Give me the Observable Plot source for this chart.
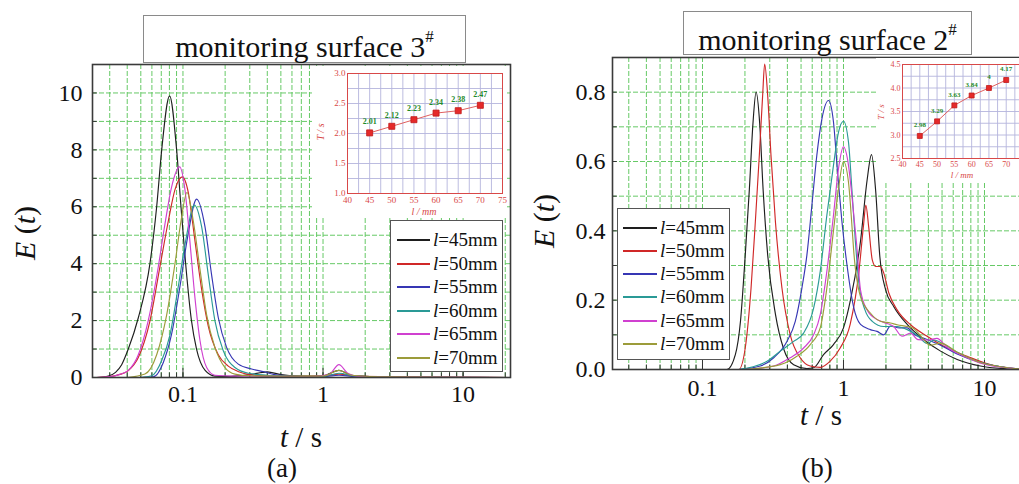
<!DOCTYPE html>
<html><head><meta charset="utf-8">
<script src="https://cdn.jsdelivr.net/npm/d3@7"></script>
<script src="https://cdn.jsdelivr.net/npm/@observablehq/plot@0.6"></script>
<style>
html,body{margin:0;padding:0;background:#fff;}
#root{position:relative;width:1019px;height:484px;overflow:hidden;background:#fff;font-family:"Liberation Serif","Tinos","Times New Roman","DejaVu Serif",serif;color:#111;}
.abs{position:absolute;}
.abs svg{max-width:none !important;display:block;}
.title{position:absolute;border:1.5px solid #8a8a8a;background:#fff;font-size:30px;text-align:center;box-sizing:border-box;white-space:nowrap;}
.title sup{font-size:17px;position:relative;top:-4px;}
.lab{position:absolute;white-space:nowrap;line-height:1;transform:translate(-50%,-50%);}
.rot{transform:translate(-50%,-50%) rotate(-90deg);}
.legend{position:absolute;border:1.5px solid #555;background:#fff;box-sizing:border-box;}
.lrow{position:absolute;left:0;height:20px;font-size:19px;line-height:20px;white-space:nowrap;}
.lrow .sw{position:absolute;top:9px;height:2px;}
.lrow .tx{position:absolute;top:0;}
</style>
</head><body>
<div id="root"></div>
<script>
// ---------- data ----------
const lengths = [45, 50, 55, 60, 65, 70];
const colors = ["#1e1e1e", "#d02828", "#3636b4", "#2a9a96", "#d040d0", "#9c9c3a"];

// panel (a): monitoring surface 3#  [t (s), E(t)]
const a45 = [[0.0226,0],[0.026,0.01],[0.0293,0.05],[0.033,0.18],[0.0365,0.45],[0.0407,1.0],[0.048,2.1],[0.0581,4.0],[0.0649,6.0],[0.0705,8.0],[0.0803,9.9],[0.0901,8.0],[0.0968,6.0],[0.1045,4.0],[0.115,2.0],[0.125,1.0],[0.144,0.25],[0.169,0.05],[0.22,0.04],[0.3,0.1],[0.4,0.2],[0.5,0.1],[0.7,0.04],[1.0,0.06],[1.3,0.25],[1.6,0.08],[2.5,0.03],[5,0.01],[21.8,0]];
const a50 = [[0.024,0],[0.03,0.03],[0.035,0.1],[0.0407,0.24],[0.048,0.7],[0.0582,2.0],[0.0685,3.9],[0.0786,5.5],[0.0877,6.6],[0.099,7.05],[0.1092,6.5],[0.1218,4.8],[0.1359,3.1],[0.1517,1.8],[0.1787,0.8],[0.2105,0.4],[0.25,0.2],[0.3,0.1],[0.4,0.06],[0.6,0.05],[1.0,0.05],[1.3,0.12],[1.7,0.05],[3,0.03],[6,0.01],[21.8,0]];
const a55 = [[0.05,0],[0.0614,0.02],[0.0724,0.53],[0.083,1.53],[0.0952,3.2],[0.108,4.94],[0.1252,6.27],[0.1436,5.3],[0.1602,3.6],[0.1788,2.1],[0.2049,1.06],[0.2483,0.47],[0.309,0.3],[0.38,0.2],[0.45,0.1],[0.6,0.05],[1.0,0.03],[1.3,0.08],[1.7,0.03],[4,0.01],[21.8,0]];
const a60 = [[0.05,0],[0.0597,0.06],[0.0705,0.6],[0.0808,1.5],[0.0926,3.2],[0.1045,4.8],[0.1205,6.06],[0.1359,5.3],[0.1517,3.6],[0.169,2.0],[0.1941,0.94],[0.235,0.35],[0.2929,0.15],[0.4,0.08],[0.6,0.04],[1.0,0.04],[1.3,0.15],[1.7,0.05],[4,0.01],[21.8,0]];
const a65 = [[0.024,0],[0.03,0.03],[0.035,0.1],[0.0407,0.25],[0.048,0.8],[0.0565,2.0],[0.0667,3.9],[0.0744,5.4],[0.083,6.7],[0.0947,7.4],[0.1033,6.6],[0.112,4.8],[0.1218,2.8],[0.1323,1.3],[0.1476,0.35],[0.169,0.08],[0.22,0.05],[0.4,0.04],[0.8,0.03],[1.1,0.1],[1.3,0.45],[1.5,0.15],[1.8,0.04],[4,0.02],[21.8,0]];
const a70 = [[0.04,0],[0.0535,0.12],[0.0649,0.8],[0.0765,2.2],[0.0877,4.0],[0.0968,5.5],[0.1068,6.5],[0.1185,5.5],[0.1323,3.8],[0.1476,2.2],[0.169,1.06],[0.1995,0.35],[0.235,0.12],[0.3,0.06],[0.5,0.05],[1.0,0.05],[1.3,0.25],[1.6,0.08],[3,0.02],[21.8,0]];

// panel (b): monitoring surface 2#
const b45 = [[0.12,0],[0.149,0],[0.171,0.043],[0.186,0.14],[0.201,0.33],[0.215,0.52],[0.228,0.71],[0.240,0.80],[0.2545,0.71],[0.269,0.52],[0.29,0.33],[0.329,0.16],[0.376,0.06],[0.443,0.014],[0.55,0.003],[0.614,0.005],[0.722,0.043],[0.849,0.072],[1.0,0.12],[1.12,0.2],[1.32,0.37],[1.47,0.546],[1.58,0.62],[1.69,0.517],[1.81,0.326],[1.99,0.23],[2.27,0.182],[2.83,0.13],[3.72,0.086],[4.88,0.053],[6.4,0.029],[9.37,0.01],[14.5,0.002],[23,0]];
const b50 = [[0.15,0],[0.181,0],[0.201,0.062],[0.221,0.235],[0.237,0.426],[0.253,0.618],[0.267,0.79],[0.276,0.881],[0.29,0.79],[0.306,0.618],[0.329,0.426],[0.366,0.235],[0.419,0.10],[0.493,0.034],[0.581,0.01],[0.684,0.006],[0.805,0.024],[0.947,0.062],[1.115,0.13],[1.285,0.28],[1.39,0.42],[1.44,0.474],[1.51,0.41],[1.6,0.316],[1.69,0.297],[1.83,0.297],[1.93,0.278],[2.1,0.22],[2.4,0.172],[2.99,0.129],[3.92,0.096],[5.44,0.062],[7.53,0.038],[11.0,0.014],[16,0.003],[23,0]];
const b55 = [[0.18,0],[0.257,0.01],[0.32,0.034],[0.397,0.081],[0.455,0.139],[0.507,0.235],[0.55,0.33],[0.597,0.474],[0.647,0.618],[0.703,0.723],[0.783,0.776],[0.849,0.714],[0.907,0.57],[0.973,0.43],[1.06,0.3],[1.18,0.18],[1.32,0.13],[1.55,0.115],[1.73,0.11],[1.93,0.10],[2.15,0.125],[2.5,0.12],[2.83,0.12],[3.2,0.1],[3.72,0.09],[4.88,0.07],[6.4,0.045],[9.4,0.02],[14.5,0.005],[23,0]];
const b60 = [[0.18,0],[0.287,0.024],[0.356,0.053],[0.443,0.081],[0.521,0.105],[0.614,0.177],[0.684,0.283],[0.762,0.445],[0.849,0.589],[0.922,0.685],[1.0,0.716],[1.085,0.656],[1.146,0.522],[1.21,0.378],[1.285,0.25],[1.42,0.172],[1.6,0.139],[1.93,0.124],[2.4,0.124],[2.83,0.115],[3.3,0.1],[3.92,0.075],[4.4,0.085],[4.88,0.078],[6.4,0.05],[9.4,0.02],[14.5,0.005],[23,0]];
const b65 = [[0.2,0],[0.32,0.01],[0.419,0.034],[0.521,0.062],[0.614,0.10],[0.684,0.158],[0.762,0.283],[0.849,0.445],[0.922,0.58],[1.0,0.642],[1.085,0.589],[1.146,0.503],[1.24,0.36],[1.32,0.23],[1.47,0.172],[1.73,0.144],[1.93,0.136],[2.27,0.124],[2.6,0.096],[2.99,0.105],[3.37,0.086],[4.0,0.085],[4.6,0.09],[5.4,0.065],[7,0.04],[10,0.015],[15,0.004],[23,0]];
const b70 = [[0.2,0],[0.356,0.014],[0.467,0.038],[0.581,0.072],[0.684,0.12],[0.762,0.235],[0.849,0.4],[0.922,0.522],[1.0,0.6],[1.085,0.54],[1.15,0.41],[1.18,0.345],[1.32,0.21],[1.55,0.163],[1.83,0.139],[2.15,0.134],[2.4,0.129],[2.83,0.124],[3.1,0.12],[3.72,0.086],[4.1,0.07],[4.88,0.076],[6.4,0.05],[9.4,0.02],[14.5,0.005],[23,0]];

// insets: T (s) vs l (mm)
const Ta = [2.01, 2.12, 2.23, 2.34, 2.38, 2.47];
const Tb = [2.98, 3.29, 3.63, 3.84, 4, 4.17];

// ticks & grids
const xTickVals = [0.1, 1, 10];
const xGrid = [0.03,0.04,0.05,0.06,0.07,0.08,0.09,0.1,0.2,0.3,0.4,0.5,0.6,0.7,0.8,0.9,1,2,3,4,5,6,7,8,9,10,20];
const yTicksA = [0, 2, 4, 6, 8, 10];
const yGridA = [1, 2, 3, 4, 5, 6, 7, 8, 9, 10];
const yTicksB = [0, 0.2, 0.4, 0.6, 0.8];
const yGridB = [0.1, 0.2, 0.3, 0.4, 0.5, 0.6, 0.7, 0.8];
const insetXTicksA = [40, 45, 50, 55, 60, 65, 70, 75];
const insetXTicksB = [40, 45, 50, 55, 60, 65, 70];
const insetXGrid = [42.5, 45, 47.5, 50, 52.5, 55, 57.5, 60, 62.5, 65, 67.5, 70, 72.5];
const insetYTicksA = [1, 1.5, 2, 2.5, 3];
const insetYGridA = [1.25, 1.5, 1.75, 2, 2.25, 2.5, 2.75];
const insetYTicksB = [2.5, 3, 3.5, 4, 4.5];
const insetYGridB = [2.75, 3, 3.25, 3.5, 3.75, 4, 4.25];

// ---------- drawing ----------
const SERIF = "'Liberation Serif', Tinos, 'Times New Roman', 'DejaVu Serif', serif";
const root = document.getElementById("root");
const toRows = arrs => arrs.flatMap((s, i) => s.map(([t, e]) => ({t, e, len: lengths[i]})));
const GREEN = "#66c966";

function place(el, left, top, w, h) {
  const d = document.createElement("div");
  d.className = "abs";
  d.style.left = left + "px"; d.style.top = top + "px";
  if (w) d.style.width = w + "px";
  if (h) d.style.height = h + "px";
  d.appendChild(el);
  root.appendChild(d);
  return d;
}
function html(str, cls, x, y, extra) {
  const d = document.createElement("div");
  d.className = cls;
  d.innerHTML = str;
  d.style.left = x + "px"; d.style.top = y + "px";
  if (extra) Object.assign(d.style, extra);
  root.appendChild(d);
  return d;
}

function mainPanel(series, cfg) {
  const rows = toRows(series);
  const x0 = cfg.xDomain[0];
  return Plot.plot({
    width: cfg.width, height: cfg.height,
    marginLeft: cfg.ml, marginTop: cfg.mt, marginRight: cfg.mr, marginBottom: cfg.mb,
    style: {fontFamily: SERIF, fontSize: "24px", color: "#111", background: "transparent", maxWidth: "none", overflow: "visible"},
    x: {type: "log", domain: cfg.xDomain, ticks: xTickVals, tickFormat: d => String(d), tickSize: 0, tickPadding: cfg.xPad, label: null},
    y: {domain: cfg.yDomain, ticks: cfg.yTicks, tickFormat: cfg.yFmt, tickSize: 0, tickPadding: cfg.yPad, label: null},
    color: {domain: lengths, range: colors},
    marks: [
      Plot.ruleX(xGrid, {stroke: GREEN, strokeWidth: 1, strokeDasharray: "5,2"}),
      Plot.ruleY(cfg.yGrid, {stroke: GREEN, strokeWidth: 1, strokeDasharray: "5,2"}),
      Plot.ruleX(xGrid, {y1: cfg.yDomain[0], y2: cfg.minorLen, stroke: "#333", strokeWidth: 1}),
      Plot.ruleX(xTickVals, {y1: cfg.yDomain[0], y2: cfg.minorLen * 2, stroke: "#333", strokeWidth: 1}),
      Plot.ruleY(cfg.yGrid, {x1: x0, x2: x0 * 1.08, stroke: "#333", strokeWidth: 1}),
      Plot.line(rows, {x: "t", y: "e", stroke: "len", curve: "monotone-x", strokeWidth: 1.15, clip: true}),
      Plot.frame({stroke: "#3a3a3a", strokeWidth: 1.6})
    ]
  });
}

function insetPanel(T, cfg) {
  const pts = lengths.map((l, i) => ({l, T: T[i]}));
  const RED = "#d84848";
  return Plot.plot({
    width: cfg.width, height: cfg.height,
    marginLeft: cfg.ml, marginTop: cfg.mt, marginRight: cfg.mr, marginBottom: cfg.mb,
    style: {fontFamily: SERIF, fontSize: cfg.fs + "px", color: RED, background: "#fff", maxWidth: "none", overflow: "hidden"},
    x: {domain: [40, 75], ticks: cfg.xTicks, tickSize: 0, tickPadding: 3, label: null},
    y: {domain: cfg.yDomain, ticks: cfg.yTicks, tickFormat: d3.format(".1f"), tickSize: 0, tickPadding: 2, label: null},
    marks: [
      Plot.ruleX(insetXGrid, {stroke: "#b4b4dc", strokeWidth: 0.9}),
      Plot.ruleY(cfg.yGrid, {stroke: "#b4b4dc", strokeWidth: 0.9}),
      Plot.frame({stroke: RED, strokeWidth: 1}),
      Plot.line(pts, {x: "l", y: "T", stroke: "#e06060", strokeWidth: 1}),
      Plot.dot(pts, {x: "l", y: "T", symbol: "square", r: cfg.r, fill: "#e52a2a", stroke: "#c01818", strokeWidth: 0.8}),
      Plot.text(pts, {x: "l", y: "T", text: d => String(d.T), dy: -11, fill: "#1f8a2a", fontWeight: "bold", fontSize: cfg.fs - 1})
    ]
  });
}

// panel (a)
place(mainPanel([a45, a50, a55, a60, a65, a70], {
  width: 530, height: 410, ml: 92, mt: 64, mr: 20, mb: 33,
  xDomain: [0.0226, 21.8], yDomain: [0, 11], yTicks: yTicksA, yGrid: yGridA,
  yFmt: d => String(d), xPad: 7, yPad: 10, minorLen: 0.16
}), 0, 0, 530, 410);

// panel (b)
place(mainPanel([b45, b50, b55, b60, b65, b70], {
  width: 480, height: 400, ml: 52, mt: 57, mr: 5, mb: 31,
  xDomain: [0.023, 23.0], yDomain: [0, 0.9], yTicks: yTicksB, yGrid: yGridB,
  yFmt: d3.format(".1f"), xPad: 9, yPad: 7, minorLen: 0.013
}), 560, 0, 480, 400);

// insets
place(insetPanel(Ta, {width: 195, height: 150, ml: 35, mt: 7, mr: 5, mb: 23, yDomain: [1, 3], xTicks: insetXTicksA, yTicks: insetYTicksA, yGrid: insetYGridA, fs: 9, r: 3.4}), 312, 66, 195, 150);
place(insetPanel(Tb, {width: 150, height: 123, ml: 26, mt: 6, mr: 3, mb: 23, yDomain: [2.5, 4.5], xTicks: insetXTicksB, yTicks: insetYTicksB, yGrid: insetYGridB, fs: 8, r: 2.8}), 876, 58, 150, 123);

// inset axis labels
const insetLab = {color: "#d84848", fontStyle: "italic"};
html("<i>T</i> / <i>s</i>", "lab rot", 321, 132, Object.assign({fontSize: "10px"}, insetLab));
html("<i>l</i> / <i>mm</i>", "lab", 424, 212, Object.assign({fontSize: "10px"}, insetLab));
html("<i>T</i> / <i>s</i>", "lab rot", 881, 112, Object.assign({fontSize: "9px"}, insetLab));
html("<i>l</i> / <i>mm</i>", "lab", 962, 175, Object.assign({fontSize: "9px"}, insetLab));

// legends
function legend(x, y, w, h, firstRow, step, swL, swW, txX) {
  const box = document.createElement("div");
  box.className = "legend";
  Object.assign(box.style, {left: x + "px", top: y + "px", width: w + "px", height: h + "px"});
  lengths.forEach((l, i) => {
    const r = document.createElement("div");
    r.className = "lrow";
    r.style.top = Math.round(firstRow + i * step - 10) + "px";
    r.style.width = w + "px";
    r.innerHTML = `<span class="sw" style="left:${swL}px;width:${swW}px;background:${colors[i]}"></span><span class="tx" style="left:${txX}px"><i>l</i>=${l}mm</span>`;
    box.appendChild(r);
  });
  root.appendChild(box);
}
legend(390, 220, 113, 152, 19, 23.5, 6, 33, 42);
legend(617, 208, 113, 152, 18.5, 23.3, 5, 34, 42);

// titles
html("monitoring surface 3<sup>#</sup>", "title", 143, 15, {width: "323px", height: "48px", lineHeight: "44px", paddingTop: "3px"});
html("monitoring surface 2<sup>#</sup>", "title", 683, 11, {width: "289px", height: "44px", lineHeight: "40px", paddingTop: "2px"});

// axis labels
html("<i>E</i> (<i>t</i>)", "lab rot", 25, 233, {fontSize: "30px"});
html("<i>E</i> (<i>t</i>)", "lab rot", 544, 221, {fontSize: "30px"});
html("<i>t</i> / s", "lab", 301, 437, {fontSize: "29px"});
html("<i>t</i> / s", "lab", 821, 415, {fontSize: "29px"});
html("(a)", "lab", 282, 468, {fontSize: "27px"});
html("(b)", "lab", 817, 468, {fontSize: "27px"});
</script>
</body></html>
